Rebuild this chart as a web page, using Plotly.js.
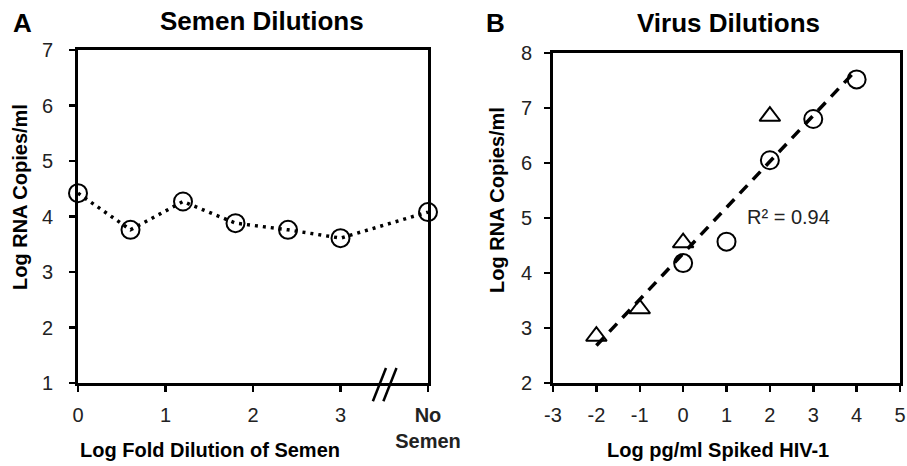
<!DOCTYPE html>
<html>
<head>
<meta charset="utf-8">
<script src="https://cdn.plot.ly/plotly-3.0.1.min.js"></script>
<style>html,body{margin:0;padding:0;background:#fff;}#chart{width:907px;height:466px;}</style>
</head>
<body>
<div id="chart"></div>
<script>
// Panel A: Semen dilutions
const semenX = [0, 0.6, 1.2, 1.8, 2.4, 3.0, 4];
const semenY = [4.42, 3.76, 4.27, 3.88, 3.76, 3.61, 4.08];
const semenTickVals = [0, 1, 2, 3, 4];
const semenTickText = ['0', '1', '2', '3', '<b>No</b><br><b>Semen</b>'];
const semenYTickVals = [1, 2, 3, 4, 5, 6, 7];
const semenYTickText = ['1', '2', '3', '4', '5', '6', '7'];

// Panel B: Virus dilutions
const circleX = [4, 3, 2, 1, 0];
const circleY = [7.52, 6.80, 6.05, 4.57, 4.18];
const triX = [2, 0, -1, -2];
const triY = [6.85, 4.55, 3.35, 2.85];
const virusTickVals = [-3, -2, -1, 0, 1, 2, 3, 4, 5];
const virusTickText = ['-3', '-2', '-1', '0', '1', '2', '3', '4', '5'];
const virusYTickVals = [2, 3, 4, 5, 6, 7, 8];
const virusYTickText = ['2', '3', '4', '5', '6', '7', '8'];
const r2Label = 'R² = 0.94';

// least-squares fit of all virus points
const allX = circleX.concat(triX), allY = circleY.concat(triY);
const n = allX.length;
const mx = allX.reduce((a,b)=>a+b,0)/n, my = allY.reduce((a,b)=>a+b,0)/n;
let sxy=0, sxx=0;
for (let i=0;i<n;i++){ sxy += (allX[i]-mx)*(allY[i]-my); sxx += (allX[i]-mx)**2; }
const slope = sxy/sxx, icpt = my - slope*mx;
const fitX = [Math.min(...allX), Math.max(...allX)];
const fitY = fitX.map(x => icpt + slope*x);

const FONT = 'Arial, "Liberation Sans", sans-serif';
const W = 907, H = 466;

const traces = [
  {x: semenX, y: semenY, xaxis:'x', yaxis:'y', mode:'lines+markers', type:'scatter',
   line:{color:'#000', width:3.5, dash:'3px,5px'},
   marker:{symbol:'circle-open', size:18, color:'#000', line:{width:2, color:'#000'}},
   cliponaxis:false, hoverinfo:'skip'},
  {x: fitX, y: fitY, xaxis:'x2', yaxis:'y2', mode:'lines', type:'scatter',
   line:{color:'#000', width:3.5, dash:'11px,8px'}, hoverinfo:'skip'},
  {x: circleX, y: circleY, xaxis:'x2', yaxis:'y2', mode:'markers', type:'scatter',
   marker:{symbol:'circle-open', size:18, color:'#000', line:{width:2, color:'#000'}},
   cliponaxis:false, hoverinfo:'skip'},
  {x: triX, y: triY, xaxis:'x2', yaxis:'y2', mode:'markers', type:'scatter',
   marker:{symbol:'triangle-up-open', size:18, color:'#000', line:{width:2, color:'#000'}},
   cliponaxis:false, hoverinfo:'skip'}
];

const axisCommon = {
  showline:true, linecolor:'#000', linewidth:3, mirror:true,
  ticks:'outside', ticklen:6, tickwidth:2.5, tickcolor:'#000',
  showgrid:false, zeroline:false,
  tickfont:{family:FONT, size:20, color:'#222'}
};

const layout = {
  width:W, height:H,
  margin:{l:0, r:0, t:0, b:0},
  paper_bgcolor:'#fff', plot_bgcolor:'#fff',
  showlegend:false,
  font:{family:FONT, color:'#000'},
  xaxis: Object.assign({}, axisCommon, {domain:[78/W, 428/W], range:[0,4],
         tickvals:semenTickVals, ticktext:semenTickText, anchor:'y', ticklabelstandoff:6}),
  yaxis: Object.assign({}, axisCommon, {domain:[1-383/H, 1-50/H], range:[1,7],
         tickvals:semenYTickVals, ticktext:semenYTickText, anchor:'x', ticklabelstandoff:12}),
  xaxis2: Object.assign({}, axisCommon, {domain:[553/W, 900/W], range:[-3,5],
         tickvals:virusTickVals, ticktext:virusTickText, anchor:'y2', ticklabelstandoff:6}),
  yaxis2: Object.assign({}, axisCommon, {domain:[1-383/H, 1-53/H], range:[2,8],
         tickvals:virusYTickVals, ticktext:virusYTickText, anchor:'x2', ticklabelstandoff:8}),
  shapes: [
    {type:'line', xref:'x', yref:'y domain', x0:3.37, y0:-0.055, x1:3.52, y1:0.045, line:{color:'#000', width:2.5}},
    {type:'line', xref:'x', yref:'y domain', x0:3.49, y0:-0.055, x1:3.64, y1:0.045, line:{color:'#000', width:2.5}}
  ],
  annotations: [
    {text:'<b>A</b>', x:22/W, y:1-23/H, xref:'paper', yref:'paper', showarrow:false, xanchor:'center', yanchor:'middle', font:{size:26, family:FONT, color:'#000'}},
    {text:'<b>B</b>', x:495/W, y:1-23/H, xref:'paper', yref:'paper', showarrow:false, xanchor:'center', yanchor:'middle', font:{size:26, family:FONT, color:'#000'}},
    {text:'<b>Semen Dilutions</b>', x:262/W, y:1-21/H, xref:'paper', yref:'paper', showarrow:false, xanchor:'center', yanchor:'middle', font:{size:26, family:FONT, color:'#000'}},
    {text:'<b>Virus Dilutions</b>', x:728/W, y:1-23/H, xref:'paper', yref:'paper', showarrow:false, xanchor:'center', yanchor:'middle', font:{size:26, family:FONT, color:'#000'}},
    {text:'<b>Log RNA Copies/ml</b>', x:20/W, y:1-197/H, xref:'paper', yref:'paper', showarrow:false, textangle:-90, xanchor:'center', yanchor:'middle', font:{size:20, family:FONT, color:'#000'}},
    {text:'<b>Log RNA Copies/ml</b>', x:497/W, y:1-200/H, xref:'paper', yref:'paper', showarrow:false, textangle:-90, xanchor:'center', yanchor:'middle', font:{size:20, family:FONT, color:'#000'}},
    {text:'<b>Log Fold Dilution of Semen</b>', x:210/W, y:1-450/H, xref:'paper', yref:'paper', showarrow:false, xanchor:'center', yanchor:'middle', font:{size:20, family:FONT, color:'#000'}},
    {text:'<b>Log pg/ml Spiked HIV-1</b>', x:718/W, y:1-450/H, xref:'paper', yref:'paper', showarrow:false, xanchor:'center', yanchor:'middle', font:{size:20, family:FONT, color:'#000'}},
    {text:r2Label, x:2.42, y:5.02, xref:'x2', yref:'y2', showarrow:false, xanchor:'center', yanchor:'middle', font:{size:20, family:FONT, color:'#222'}}
  ]
};

Plotly.newPlot('chart', traces, layout, {staticPlot:true, displayModeBar:false});
</script>
</body>
</html>
